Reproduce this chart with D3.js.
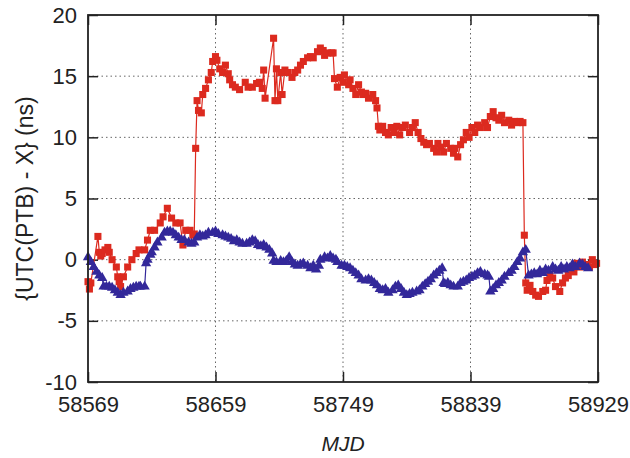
<!DOCTYPE html>
<html>
<head>
<meta charset="utf-8">
<script src="https://cdn.jsdelivr.net/npm/d3@7"></script>
<style>
  body { margin: 0; background: #fff; }
  text { font-family: "Liberation Sans", Arial, sans-serif; fill: #222; }
</style>
</head>
<body>
<div id="chart"></div>
<script>
// Tick values
var xTicks = [58569, 58659, 58749, 58839, 58929];
var yTicks = [-10, -5, 0, 5, 10, 15, 20];

// Red series (squares)
var redMjd = [58569, 58570, 58571, 58576, 58577, 58578, 58579, 58581, 58583, 58584, 58586, 58589, 58590, 58591, 58592,
  58594, 58597, 58600, 58603, 58605, 58609, 58611, 58613, 58616, 58620, 58622, 58625, 58628, 58631, 58634,
  58636, 58638, 58641, 58643, 58644, 58645, 58646, 58647, 58649, 58650, 58652, 58654, 58656, 58657, 58659,
  58660, 58662, 58664, 58666, 58668, 58669, 58671, 58673, 58676, 58680, 58682, 58685, 58688, 58690, 58692,
  58693, 58694, 58700, 58701, 58702, 58703, 58705, 58706, 58708, 58710, 58713, 58715, 58717, 58719, 58721,
  58724, 58726, 58728, 58731, 58733, 58735, 58736, 58738, 58741, 58742, 58743, 58745, 58747, 58749, 58750,
  58753, 58754, 58756, 58758, 58760, 58762, 58763, 58765, 58767, 58770, 58772, 58773, 58774, 58775, 58777,
  58779, 58781, 58783, 58785, 58787, 58789, 58791, 58793, 58796, 58798, 58800, 58802, 58804, 58806, 58808,
  58810, 58813, 58815, 58816, 58818, 58820, 58822, 58825, 58827, 58828, 58830, 58832, 58834, 58836, 58838,
  58840, 58842, 58844, 58846, 58849, 58851, 58853, 58855, 58857, 58859, 58861, 58863, 58866, 58868, 58870,
  58872, 58874, 58876, 58877, 58878, 58879, 58881, 58883, 58885, 58887, 58890, 58892, 58893, 58895, 58897,
  58899, 58902, 58904, 58906, 58908, 58910, 58912, 58914, 58916, 58918, 58921, 58923, 58925, 58927, 58928];
var redVal = [-1.8, -2.4, -1.9, 1.9, 0.6, 0.3, 0.5, 0.8, 1.0, 0.6, 0.0, -0.6, -1.4, -1.8, -2.2,
  -1.4, -0.6, 0.0, 0.5, 0.8, 0.8, 1.6, 2.4, 2.4, 3.0, 3.5, 4.2, 3.4, 3.0, 3.0,
  1.2, 2.4, 2.4, 2.0, 2.1, 9.1, 13.0, 12.2, 12.0, 13.5, 14.0, 14.7, 15.3, 16.2, 16.6,
  16.3, 15.6, 15.3, 15.9, 15.2, 14.7, 14.3, 14.1, 13.9, 14.5, 14.1, 14.1, 14.4, 14.5, 14.0,
  15.5, 13.2, 18.1, 13.0, 15.6, 13.0, 15.3, 13.5, 15.5, 15.3, 14.9, 15.3, 15.5, 15.9, 16.2,
  16.5, 16.6, 16.5, 17.0, 17.3, 17.1, 16.7, 16.9, 16.9, 16.9, 14.8, 14.1, 14.9, 14.5, 15.1,
  14.3, 14.7, 14.0, 13.5, 14.3, 13.7, 13.5, 13.6, 13.2, 13.5, 13.0, 12.4, 10.9, 10.6, 10.9,
  10.4, 10.2, 10.8, 10.4, 10.9, 10.2, 10.8, 11.0, 10.4, 10.8, 11.2, 10.4, 9.9, 9.6, 9.4,
  9.5, 9.1, 8.8, 9.5, 9.2, 8.8, 9.5, 9.1, 8.7, 9.1, 8.4, 9.4, 9.8, 10.4, 10.0,
  10.8, 10.4, 11.0, 10.8, 11.2, 10.8, 11.7, 12.1, 11.6, 11.4, 11.8, 11.2, 11.4, 11.0, 11.3,
  11.2, 11.3, 11.2, 2.0, -1.9, -2.5, -2.1, -2.6, -2.9, -3.0, -2.6, -2.5, -1.7, -1.3, -1.5,
  -2.2, -2.6, -1.9, -1.5, -1.3, -0.7, -1.0, -0.3, -0.6, -0.2, -0.4, -0.6, 0.0, -0.4, -0.3];

// Blue series (triangles)
var blueMjd = [58569, 58571, 58573, 58575, 58577, 58579, 58580, 58582, 58584, 58586, 58588, 58590, 58592, 58594, 58597,
  58599, 58601, 58603, 58605, 58606, 58609, 58610, 58611, 58613, 58614, 58616, 58618, 58621, 58623, 58625,
  58627, 58629, 58631, 58633, 58635, 58637, 58640, 58642, 58644, 58646, 58648, 58650, 58652, 58654, 58657,
  58659, 58661, 58664, 58666, 58668, 58670, 58672, 58674, 58676, 58678, 58681, 58683, 58685, 58687, 58689,
  58691, 58693, 58695, 58697, 58699, 58700, 58702, 58705, 58707, 58709, 58711, 58713, 58715, 58717, 58719,
  58721, 58724, 58726, 58728, 58730, 58732, 58733, 58736, 58738, 58740, 58742, 58744, 58745, 58748, 58750,
  58752, 58754, 58756, 58758, 58760, 58762, 58765, 58767, 58769, 58771, 58773, 58775, 58777, 58779, 58781,
  58784, 58786, 58788, 58790, 58792, 58794, 58796, 58798, 58801, 58803, 58805, 58807, 58809, 58811, 58813,
  58815, 58817, 58819, 58820, 58821, 58823, 58825, 58827, 58830, 58832, 58834, 58836, 58838, 58840, 58842,
  58844, 58846, 58849, 58851, 58852, 58853, 58855, 58857, 58859, 58861, 58863, 58866, 58868, 58870, 58872,
  58874, 58876, 58878, 58880, 58882, 58884, 58886, 58888, 58890, 58892, 58894, 58897, 58899, 58901, 58903,
  58905, 58907, 58909, 58911, 58913, 58916, 58918, 58920, 58922];
var blueVal = [0.2, -0.2, -0.6, -1.0, -1.3, -1.5, -2.2, -2.2, -2.2, -2.3, -2.5, -2.7, -2.9, -2.7, -2.6,
  -2.4, -2.3, -2.2, -2.2, -2.2, -2.2, -0.3, 0.0, 0.4, 0.6, 1.0, 1.4, 1.8, 2.2, 2.3,
  2.3, 2.2, 2.0, 1.8, 1.6, 1.6, 1.4, 1.3, 1.4, 1.8, 2.0, 1.9, 2.0, 2.2, 2.2,
  2.3, 2.1, 2.0, 1.9, 1.8, 1.7, 1.5, 1.6, 1.4, 1.3, 1.3, 1.4, 1.6, 1.5, 1.2,
  1.1, 1.2, 1.0, 0.8, 0.5, -0.1, -0.2, -0.1, -0.2, -0.1, 0.2, -0.2, -0.4, -0.5, -0.4,
  -0.3, -0.5, -0.7, -0.5, -0.8, -0.5, 0.0, 0.2, 0.1, 0.3, 0.1, 0.0, -0.2, -0.5, -0.5,
  -0.6, -0.7, -0.9, -1.1, -1.3, -1.6, -1.7, -1.6, -1.7, -1.9, -2.1, -2.4, -2.5, -2.4, -2.7,
  -2.5, -2.2, -2.1, -2.4, -2.7, -2.9, -2.8, -2.7, -2.6, -2.5, -2.2, -2.0, -1.8, -1.6, -1.3,
  -1.1, -0.9, -0.7, -1.9, -2.0, -1.9, -2.1, -2.2, -2.2, -1.9, -1.8, -1.7, -1.5, -1.4, -1.3,
  -1.1, -1.0, -1.2, -1.3, -1.4, -2.6, -2.4, -2.1, -1.9, -1.7, -1.4, -1.1, -0.9, -0.6, -0.2,
  0.1, 0.6, 0.8, -1.3, -1.2, -1.1, -1.2, -0.9, -1.1, -0.8, -0.9, -0.6, -0.8, -0.9, -0.6,
  -0.8, -0.6, -0.7, -0.4, -0.6, -0.3, -0.4, -0.6, -0.7];

var redColor = "#dc2a1f";
var blueColor = "#33289a";

// Set up the svg params
var svgWidth = 630;
var svgHeight = 458;
var margin = { top: 15, right: 32, bottom: 76, left: 88 };
var width = svgWidth - margin.left - margin.right;
var height = svgHeight - margin.top - margin.bottom;

var svg = d3.select("#chart").append("svg")
    .attr("width", svgWidth)
    .attr("height", svgHeight);

var chartGroup = svg.append("g")
    .attr("transform", `translate(${margin.left}, ${margin.top})`);

// Scales
var xScale = d3.scaleLinear().domain([58569, 58929]).range([0, width]);
var yScale = d3.scaleLinear().domain([-10, 20]).range([height, 0]);

// Dotted grid (inner ticks only)
chartGroup.append("g")
    .selectAll("line")
    .data(xTicks.slice(1, -1))
    .enter()
    .append("line")
    .attr("x1", d => xScale(d)).attr("x2", d => xScale(d))
    .attr("y1", 0).attr("y2", height)
    .attr("stroke", "#666")
    .attr("stroke-width", 1)
    .attr("stroke-dasharray", "1.5,3");

chartGroup.append("g")
    .selectAll("line")
    .data(yTicks.slice(1, -1))
    .enter()
    .append("line")
    .attr("x1", 0).attr("x2", width)
    .attr("y1", d => yScale(d)).attr("y2", d => yScale(d))
    .attr("stroke", "#666")
    .attr("stroke-width", 1)
    .attr("stroke-dasharray", "1.5,3");

// Axes, ticks pointing inwards like gnuplot; plain hyphen for negatives
var plain = d => String(d);
var bottomAxis = d3.axisBottom(xScale).tickValues(xTicks).tickFormat(plain)
    .tickSizeInner(-10).tickSizeOuter(0).tickPadding(14);
var leftAxis = d3.axisLeft(yScale).tickValues(yTicks).tickFormat(plain)
    .tickSizeInner(-10).tickSizeOuter(0).tickPadding(11);
var topAxis = d3.axisTop(xScale).tickValues(xTicks).tickFormat("")
    .tickSizeInner(-10).tickSizeOuter(0);
var rightAxis = d3.axisRight(yScale).tickValues(yTicks).tickFormat("")
    .tickSizeInner(-10).tickSizeOuter(0);

var gx = chartGroup.append("g")
    .attr("transform", `translate(0, ${height})`)
    .call(bottomAxis);
var gy = chartGroup.append("g").call(leftAxis);
var gt = chartGroup.append("g").call(topAxis);
var gr = chartGroup.append("g")
    .attr("transform", `translate(${width}, 0)`)
    .call(rightAxis);

[gx, gy, gt, gr].forEach(g => {
    g.select(".domain").remove();
    g.selectAll("line").attr("stroke", "#222").attr("stroke-width", 1.5);
    g.selectAll("text")
      .style("font-family", "'Liberation Sans', Arial, sans-serif")
      .style("font-size", "22px")
      .attr("fill", "#1a1a1a");
});

// Series
var redData = redMjd.map((m, i) => ({ x: m, y: redVal[i] }));
var blueData = blueMjd.map((m, i) => ({ x: m, y: blueVal[i] }));

var line = d3.line().x(d => xScale(d.x)).y(d => yScale(d.y));

chartGroup.append("path")
    .datum(redData)
    .attr("d", line)
    .attr("fill", "none")
    .attr("stroke", redColor)
    .attr("stroke-width", 1.2);

chartGroup.append("g")
    .selectAll("path")
    .data(redData)
    .enter()
    .append("path")
    .attr("d", d3.symbol().type(d3.symbolSquare).size(50))
    .attr("transform", d => `translate(${xScale(d.x)}, ${yScale(d.y)})`)
    .attr("fill", redColor);

chartGroup.append("path")
    .datum(blueData)
    .attr("d", line)
    .attr("fill", "none")
    .attr("stroke", blueColor)
    .attr("stroke-width", 1.2);

chartGroup.append("g")
    .selectAll("path")
    .data(blueData)
    .enter()
    .append("path")
    .attr("d", d3.symbol().type(d3.symbolTriangle).size(46))
    .attr("transform", d => `translate(${xScale(d.x)}, ${yScale(d.y)})`)
    .attr("fill", blueColor);

// Frame
chartGroup.append("rect")
    .attr("x", 0).attr("y", 0)
    .attr("width", width).attr("height", height)
    .attr("fill", "none")
    .attr("stroke", "#222")
    .attr("stroke-width", 1.8);

// Axis titles
chartGroup.append("text")
    .attr("transform", "rotate(-90)")
    .attr("x", 0 - (height / 2))
    .attr("y", 33 - margin.left)
    .attr("text-anchor", "middle")
    .style("font-size", "23px")
    .text("{UTC(PTB) - X} (ns)");

chartGroup.append("text")
    .attr("x", xScale(58749))
    .attr("y", 451 - margin.top)
    .attr("text-anchor", "middle")
    .style("font-size", "21px")
    .style("font-style", "italic")
    .text("MJD");
</script>
</body>
</html>
